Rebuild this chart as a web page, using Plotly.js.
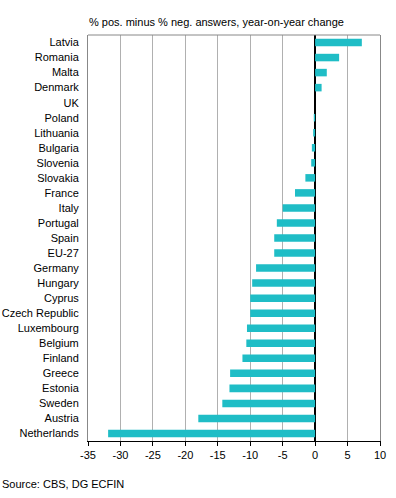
<!DOCTYPE html>
<html>
<head>
<meta charset="utf-8">
<script src="https://cdn.plot.ly/plotly-3.0.1.min.js"></script>
<style>html,body{margin:0;padding:0;background:#fff;}#chart{width:396px;height:498px;}</style>
</head>
<body>
<div id="chart"></div>
<script>
const countries = ["Latvia","Romania","Malta","Denmark","UK","Poland","Lithuania","Bulgaria","Slovenia","Slovakia","France","Italy","Portugal","Spain","EU-27","Germany","Hungary","Cyprus","Czech Republic","Luxembourg","Belgium","Finland","Greece","Estonia","Sweden","Austria","Netherlands"];
const changes = [7.2,3.7,1.8,1.0,0.0,-0.2,-0.3,-0.5,-0.6,-1.5,-3.1,-5.0,-5.9,-6.3,-6.3,-9.1,-9.7,-10.0,-10.0,-10.5,-10.6,-11.2,-13.1,-13.2,-14.3,-18.0,-31.9];
const xTicks = [-35,-30,-25,-20,-15,-10,-5,0,5,10];
const titleText = "% pos. minus % neg. answers, year-on-year change";
const sourceText = "Source: CBS, DG ECFIN";

const font = {family: "Liberation Sans, Arial, sans-serif", size: 11, color: "#000"};

Plotly.newPlot("chart", [{
  type: "bar",
  orientation: "h",
  x: changes,
  y: countries,
  width: 0.5,
  marker: {color: "#1fbdc6", line: {width: 0}},
  hoverinfo: "skip"
}], {
  width: 396, height: 498,
  margin: {l: 88, r: 16, t: 35, b: 57, pad: 0},
  paper_bgcolor: "#fff", plot_bgcolor: "#fff",
  font: font,
  showlegend: false,
  bargap: 0.5,
  xaxis: {
    range: [-35, 10],
    tickvals: xTicks,
    ticktext: xTicks.map(String),
    showgrid: true, gridcolor: "#b0b0b0", gridwidth: 1,
    zeroline: true, zerolinecolor: "#000", zerolinewidth: 1.5,
    showline: true, linecolor: "#000", linewidth: 1,
    ticks: "outside", ticklen: 4, tickcolor: "#000",
    tickfont: font, fixedrange: true
  },
  yaxis: {
    autorange: "reversed",
    showgrid: false, zeroline: false,
    showline: true, linecolor: "#888", linewidth: 1, mirror: true,
    ticks: "", ticklabelstandoff: 6,
    tickfont: font, fixedrange: true
  },
  shapes: [{type: "line", xref: "paper", yref: "paper", x0: 0, x1: 1, y0: 1, y1: 1, line: {color: "#888", width: 1}}],
  annotations: [
    {text: titleText, xref: "paper", yref: "paper", x: -0.005, y: 1, yshift: 5, xanchor: "left", yanchor: "bottom", showarrow: false, font: font},
    {text: sourceText, xref: "paper", yref: "paper", x: -88/292, y: 0, yshift: -35, xanchor: "left", yanchor: "top", showarrow: false, font: font}
  ]
}, {displayModeBar: false, staticPlot: true});
</script>
</body>
</html>
